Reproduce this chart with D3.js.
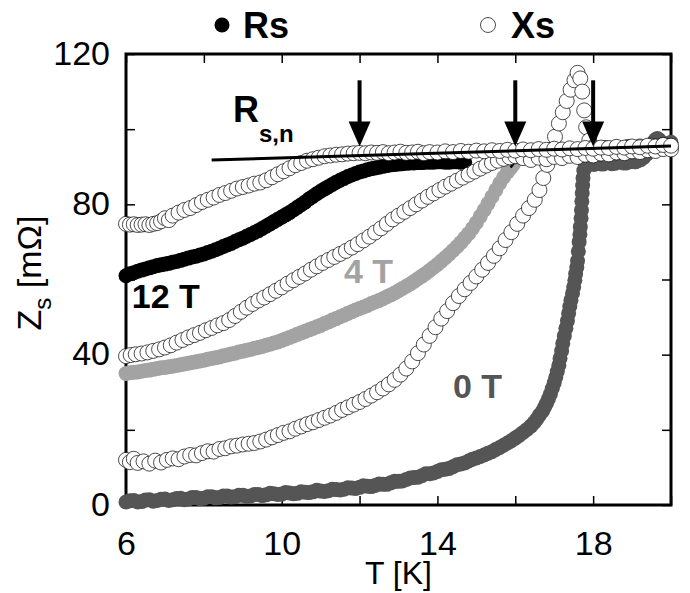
<!DOCTYPE html>
<html><head><meta charset="utf-8">
<script src="https://cdn.jsdelivr.net/npm/d3@7"></script>
<style>body{margin:0;background:#fff}svg{display:block}</style>
</head><body>
<svg id="chart" width="690" height="593"></svg>
<script>
// ---- tick labels ----
const xTickLabels = [6, 10, 14, 18];
const yTickLabels = [0, 40, 80, 120];
const xMinorTicks = [6, 8, 10, 12, 14, 16, 18, 20];
const yMinorTicks = [0, 20, 40, 60, 80, 100, 120];

// ---- series: [T (K), Zs (mOhm)] ----
const rs0T = [[6.0,0.8],[6.1,1.1],[6.2,1.2],[6.3,0.8],[6.4,0.9],[6.5,1.3],[6.6,1.4],[6.7,1.0],[6.8,1.2],[6.9,1.5],[7.0,1.6],[7.1,1.2],[7.2,1.4],[7.3,1.7],[7.4,1.8],[7.5,1.4],[7.6,1.6],[7.7,2.0],[7.8,2.0],[7.9,1.7],[8.0,1.8],[8.1,2.2],[8.2,2.2],[8.3,1.9],[8.4,2.0],[8.5,2.4],[8.6,2.4],[8.7,2.1],[8.8,2.2],[8.9,2.6],[9.0,2.6],[9.1,2.3],[9.2,2.4],[9.3,2.8],[9.4,2.8],[9.5,2.5],[9.6,2.7],[9.7,3.1],[9.8,3.0],[9.9,2.8],[10.0,2.9],[10.1,3.3],[10.2,3.2],[10.3,3.0],[10.4,3.1],[10.5,3.5],[10.6,3.4],[10.7,3.3],[10.8,3.5],[10.9,3.9],[11.0,3.7],[11.1,3.6],[11.2,3.8],[11.3,4.2],[11.4,4.1],[11.5,4.0],[11.6,4.2],[11.7,4.6],[11.8,4.5],[11.9,4.4],[12.0,4.7],[12.1,5.1],[12.2,5.0],[12.3,4.9],[12.4,5.2],[12.5,5.6],[12.6,5.5],[12.7,5.5],[12.8,5.9],[12.9,6.3],[13.0,6.3],[13.1,6.4],[13.2,6.8],[13.3,7.2],[13.4,7.3],[13.5,7.4],[13.6,7.8],[13.7,8.3],[13.8,8.3],[13.9,8.5],[14.0,8.9],[14.1,9.4],[14.2,9.5],[14.3,9.7],[14.4,10.2],[14.5,10.7],[14.6,10.9],[14.7,11.2],[14.8,11.7],[14.9,12.2],[15.0,12.5],[15.1,12.9],[15.2,13.3],[15.3,13.8],[15.4,14.2],[15.5,14.8],[15.6,15.3],[15.7,15.9],[15.8,16.5],[15.9,17.1],[16.0,17.8],[16.1,18.5],[16.2,19.3],[16.3,20.1],[16.4,21.0],[16.48,21.9],[16.55,22.8],[16.62,23.9],[16.7,25.0],[16.75,26.0],[16.8,27.0],[16.85,28.2],[16.9,29.5],[16.95,31.0],[17.0,32.5],[17.04,34.0],[17.08,35.5],[17.12,37.2],[17.15,39.0],[17.19,41.0],[17.22,43.0],[17.26,45.0],[17.3,47.0],[17.34,49.0],[17.37,51.0],[17.4,52.8],[17.43,54.5],[17.47,56.3],[17.5,58.0],[17.53,59.8],[17.55,61.5],[17.58,63.2],[17.6,65.0],[17.62,67.5],[17.64,70.0],[17.66,72.0],[17.67,74.0],[17.69,76.3],[17.7,78.5],[17.71,80.8],[17.72,83.0],[17.73,85.0],[17.74,87.0],[17.76,89.0],[17.8,90.3],[17.88,90.6],[17.95,90.8],[18.02,90.6],[18.1,91.0],[18.18,90.8],[18.25,90.7],[18.32,91.0],[18.4,91.1],[18.48,90.8],[18.55,90.9],[18.62,91.2],[18.7,91.3],[18.78,91.0],[18.85,91.0],[18.92,91.3],[19.0,91.4],[19.08,91.3],[19.15,91.6],[19.22,91.9],[19.3,92.5],[19.38,93.4],[19.45,94.5],[19.5,95.5],[19.55,96.5],[19.6,97.2],[19.65,97.5],[19.7,97.1],[19.75,96.5],[19.8,96.0],[19.85,95.8],[19.92,96.1],[20.0,96.5]];

const rs4T = [[6.0,35.0],[6.1,35.2],[6.2,35.3],[6.3,35.4],[6.4,35.6],[6.5,35.8],[6.6,35.9],[6.7,36.1],[6.8,36.3],[6.9,36.5],[7.0,36.6],[7.1,36.8],[7.2,36.9],[7.3,37.1],[7.4,37.3],[7.5,37.5],[7.6,37.7],[7.7,37.9],[7.8,38.1],[7.9,38.3],[8.0,38.5],[8.1,38.8],[8.2,39.0],[8.3,39.2],[8.4,39.4],[8.5,39.7],[8.6,39.9],[8.7,40.2],[8.8,40.4],[8.9,40.7],[9.0,40.9],[9.1,41.2],[9.2,41.4],[9.3,41.7],[9.4,41.9],[9.5,42.2],[9.6,42.5],[9.7,42.8],[9.8,43.1],[9.9,43.4],[10.0,43.8],[10.1,44.2],[10.2,44.6],[10.3,45.0],[10.4,45.4],[10.5,45.8],[10.6,46.2],[10.7,46.6],[10.8,47.0],[10.9,47.4],[11.0,47.8],[11.1,48.3],[11.2,48.7],[11.3,49.2],[11.4,49.6],[11.5,50.1],[11.6,50.5],[11.7,51.0],[11.8,51.4],[11.9,51.9],[12.0,52.3],[12.1,52.7],[12.2,53.1],[12.3,53.6],[12.4,54.0],[12.5,54.4],[12.6,54.9],[12.7,55.4],[12.8,55.9],[12.9,56.4],[13.0,57.0],[13.1,57.6],[13.2,58.2],[13.3,58.8],[13.4,59.5],[13.5,60.2],[13.6,60.9],[13.7,61.6],[13.8,62.4],[13.9,63.2],[14.0,64.0],[14.1,64.9],[14.2,65.8],[14.3,66.7],[14.4,67.7],[14.5,68.7],[14.6,69.8],[14.7,71.0],[14.8,72.2],[14.9,73.6],[15.0,75.1],[15.1,76.8],[15.2,78.5],[15.3,80.2],[15.4,82.0],[15.5,83.8],[15.6,85.6],[15.7,87.2],[15.8,88.6],[15.88,89.7],[15.95,90.6]];

const rs12T = [[6.0,61.0],[6.1,61.5],[6.2,61.8],[6.3,62.2],[6.4,62.5],[6.5,62.8],[6.6,63.1],[6.7,63.4],[6.8,63.7],[6.9,63.9],[7.0,64.1],[7.1,64.3],[7.2,64.6],[7.3,64.8],[7.4,65.1],[7.5,65.4],[7.6,65.7],[7.7,66.0],[7.8,66.2],[7.9,66.5],[8.0,66.8],[8.1,67.2],[8.2,67.5],[8.3,67.9],[8.4,68.3],[8.5,68.8],[8.6,69.2],[8.7,69.6],[8.8,70.1],[8.9,70.6],[9.0,71.0],[9.1,71.5],[9.2,72.0],[9.3,72.5],[9.4,73.0],[9.5,73.6],[9.6,74.2],[9.7,74.8],[9.8,75.4],[9.9,76.0],[10.0,76.6],[10.1,77.2],[10.2,77.8],[10.3,78.5],[10.4,79.2],[10.5,79.9],[10.6,80.6],[10.7,81.4],[10.8,82.1],[10.9,82.8],[11.0,83.5],[11.1,84.1],[11.2,84.7],[11.3,85.3],[11.4,85.9],[11.5,86.4],[11.6,86.9],[11.7,87.4],[11.8,87.8],[11.9,88.2],[12.0,88.6],[12.1,88.9],[12.2,89.2],[12.3,89.5],[12.4,89.7],[12.5,89.9],[12.6,90.1],[12.7,90.3],[12.8,90.5],[12.9,90.6],[13.0,90.7],[13.1,90.8],[13.2,90.9],[13.3,91.0],[13.4,91.0],[13.5,91.1],[13.6,91.1],[13.7,91.2],[13.8,91.2],[13.9,91.2],[14.0,91.3],[14.1,91.3],[14.2,91.2],[14.3,91.2],[14.4,91.3],[14.5,91.3],[14.6,91.2],[14.7,91.2]];

const xs0T = [[6.0,12.0],[6.1,11.4],[6.2,12.3],[6.3,11.2],[6.45,11.6],[6.6,11.0],[6.75,11.8],[6.9,11.3],[7.05,12.0],[7.2,12.4],[7.35,12.2],[7.5,12.9],[7.65,13.3],[7.8,13.2],[7.95,13.8],[8.1,14.3],[8.25,14.2],[8.4,14.9],[8.55,15.1],[8.7,15.6],[8.85,15.8],[9.0,16.1],[9.15,16.3],[9.3,16.5],[9.45,16.9],[9.6,17.4],[9.75,18.0],[9.9,18.6],[10.05,19.2],[10.2,19.6],[10.35,20.3],[10.5,20.9],[10.65,21.5],[10.8,22.0],[10.95,22.6],[11.1,23.2],[11.25,23.8],[11.4,24.5],[11.55,25.3],[11.7,26.0],[11.85,26.7],[12.0,27.4],[12.15,28.2],[12.3,29.1],[12.45,30.0],[12.6,31.0],[12.75,32.1],[12.9,33.3],[13.05,34.7],[13.2,36.3],[13.35,38.2],[13.5,40.4],[13.65,42.7],[13.8,45.0],[13.95,47.3],[14.1,49.6],[14.25,51.6],[14.4,53.7],[14.55,55.6],[14.7,57.4],[14.85,59.1],[15.0,60.8],[15.15,62.6],[15.3,64.4],[15.45,66.3],[15.6,68.3],[15.75,70.5],[15.9,72.6],[16.05,74.8],[16.2,77.0],[16.35,79.0],[16.5,81.2],[16.62,83.8],[16.72,87.0],[16.82,90.5],[16.92,94.5],[17.02,98.0],[17.12,101.5],[17.22,104.5],[17.32,107.5],[17.42,110.5],[17.52,113.0],[17.6,115.0],[17.67,113.5],[17.72,110.0],[17.77,105.0],[17.82,100.5],[17.9,97.0],[18.0,95.2],[18.15,94.6],[18.3,95.0],[18.45,94.7],[18.6,95.1],[18.75,94.8],[18.9,95.3],[19.05,95.0],[19.2,95.4],[19.35,95.1],[19.5,95.6],[19.65,95.3],[19.8,95.8],[19.95,95.5]];

const xs4T = [[6.0,39.6],[6.12,39.9],[6.25,40.1],[6.4,40.3],[6.55,40.6],[6.7,41.0],[6.85,41.4],[7.0,41.9],[7.15,42.5],[7.3,43.2],[7.45,43.9],[7.6,44.6],[7.75,45.2],[7.9,45.8],[8.05,46.5],[8.2,47.1],[8.35,47.8],[8.5,48.4],[8.65,49.2],[8.8,50.3],[8.95,51.4],[9.1,52.5],[9.25,53.5],[9.4,54.4],[9.55,55.2],[9.7,56.1],[9.85,57.0],[10.0,57.9],[10.15,58.9],[10.3,59.8],[10.45,60.7],[10.6,61.6],[10.75,62.6],[10.9,63.5],[11.05,64.4],[11.2,65.2],[11.35,66.0],[11.5,66.8],[11.65,67.6],[11.8,68.5],[11.95,69.4],[12.1,70.4],[12.25,71.4],[12.4,72.5],[12.55,73.6],[12.7,74.8],[12.85,76.0],[13.0,77.0],[13.15,78.0],[13.3,79.0],[13.45,80.0],[13.6,81.0],[13.75,82.0],[13.9,82.9],[14.05,83.8],[14.2,84.7],[14.35,85.5],[14.5,86.3],[14.65,87.1],[14.8,87.9],[14.95,88.7],[15.1,89.5],[15.25,90.3],[15.4,91.0],[15.55,91.6],[15.7,92.1],[15.85,92.5],[16.0,92.8],[16.2,92.3],[16.4,91.8],[16.6,92.4],[16.8,92.0],[17.0,92.6],[17.2,92.3],[17.4,92.9],[17.6,92.6],[17.8,93.2],[18.0,93.0],[18.2,93.5],[18.4,93.3],[18.6,93.8],[18.8,93.6],[19.0,94.1],[19.2,93.9],[19.4,94.4],[19.6,94.2],[19.8,94.7],[20.0,94.6]];

const xs12T = [[6.0,74.8],[6.1,74.6],[6.2,74.7],[6.3,74.5],[6.4,74.6],[6.5,74.7],[6.6,74.5],[6.7,74.8],[6.8,75.0],[6.9,75.5],[7.0,76.3],[7.1,75.8],[7.2,77.0],[7.35,77.8],[7.5,78.5],[7.65,79.0],[7.8,79.8],[7.95,80.6],[8.1,81.2],[8.25,81.8],[8.4,82.5],[8.55,83.0],[8.7,83.6],[8.85,84.2],[9.0,84.6],[9.15,85.0],[9.3,85.5],[9.45,85.8],[9.6,86.4],[9.75,87.2],[9.9,88.0],[10.05,88.8],[10.2,89.6],[10.35,90.4],[10.5,91.0],[10.65,91.6],[10.8,92.0],[10.95,92.4],[11.1,92.8],[11.25,93.0],[11.4,93.2],[11.55,93.3],[11.7,93.5],[11.85,93.6],[12.0,93.7],[12.15,93.6],[12.3,93.8],[12.45,93.7],[12.6,93.9],[12.75,93.6],[12.9,93.8],[13.05,94.0],[13.2,93.7],[13.35,93.8],[13.5,94.0],[13.65,93.6],[13.8,93.9],[14.0,93.8],[14.2,94.1],[14.4,93.9],[14.6,94.2],[14.8,94.0],[15.0,94.3],[15.2,94.1],[15.4,94.4],[15.6,94.2],[15.8,94.5],[16.0,94.3],[16.2,94.6],[16.4,94.4],[16.6,94.7],[16.8,94.5],[17.0,94.8],[17.2,94.6],[17.4,94.9],[17.6,94.7],[17.8,95.0],[18.0,94.8],[18.2,95.1],[18.4,95.0],[18.6,95.3],[18.8,95.1],[19.0,95.4],[19.2,95.2],[19.4,95.6],[19.6,95.4],[19.8,95.8],[20.0,95.6]];

// short black line near 16 K
const rsLine4T = [[15.88,89.8],[15.98,91.2],[16.15,90.9],[16.35,90.6],[16.6,91.0]];

// normal-state line R_s,n
const rsnLine = [[8.2,91.8],[20.0,95.5]];
// arrows: T position, top and tip Zs
const arrowT = [12, 16, 18];
const arrowTop = 113;
const arrowTip = 95.4;

const fieldLabels = [
  {text: "12 T", t: 6.15, z: 52.5, color: "#000000"},
  {text: "4 T",  t: 11.6, z: 59.0, color: "#a3a3a3"},
  {text: "0 T",  t: 14.4, z: 28.5, color: "#555555"}
];

// ---- drawing ----
const svg = d3.select("#chart");
const x = d3.scaleLinear().domain([6, 20]).range([126, 671]);
const y = d3.scaleLinear().domain([0, 120]).range([505, 54]);
const font = "'Liberation Sans', Arial, Helvetica, sans-serif";

// frame + ticks
const tickLen = 9;
const fmtX = d => xTickLabels.includes(d) ? d : "";
const fmtY = d => yTickLabels.includes(d) ? d : "";

const gB = svg.append("g").attr("transform", `translate(0,${y(0)})`)
  .call(d3.axisBottom(x).tickValues(xMinorTicks).tickSizeInner(-tickLen).tickSizeOuter(0).tickPadding(26).tickFormat(fmtX));
const gT = svg.append("g").attr("transform", `translate(0,${y(120)})`)
  .call(d3.axisTop(x).tickValues(xMinorTicks).tickSizeInner(-tickLen).tickSizeOuter(0).tickFormat(""));
const gL = svg.append("g").attr("transform", `translate(${x(6)},0)`)
  .call(d3.axisLeft(y).tickValues(yMinorTicks).tickSizeInner(-tickLen).tickSizeOuter(0).tickPadding(16).tickFormat(fmtY));
const gR = svg.append("g").attr("transform", `translate(${x(20)},0)`)
  .call(d3.axisRight(y).tickValues(yMinorTicks).tickSizeInner(-tickLen).tickSizeOuter(0).tickFormat(""));
[gB, gT, gL, gR].forEach(g => {
  g.select(".domain").remove();
  g.selectAll(".tick line").attr("stroke", "#000").attr("stroke-width", 1.5);
  g.selectAll(".tick text").attr("font-family", font).attr("font-size", 34).attr("fill", "#000");
});
gB.selectAll(".tick text").attr("dy", "0.71em");
gL.selectAll(".tick text").attr("dy", "0.30em");

svg.append("rect")
  .attr("x", x(6)).attr("y", y(120))
  .attr("width", x(20) - x(6)).attr("height", y(0) - y(120))
  .attr("fill", "none").attr("stroke", "#000").attr("stroke-width", 3);

// filled Rs
function filled(data, color, r) {
  svg.append("g").selectAll("circle").data(data).join("circle")
    .attr("cx", d => x(d[0])).attr("cy", d => y(d[1])).attr("r", r)
    .attr("fill", color);
}
filled(rs0T, "#555555", 7.5);
filled(rs4T, "#a3a3a3", 7.5);
filled(rs12T, "#000000", 7.5);

svg.append("path").datum(rsLine4T)
  .attr("d", d3.line().x(d => x(d[0])).y(d => y(d[1])))
  .attr("fill", "none").attr("stroke", "#000").attr("stroke-width", 2.5);

// open Xs
function open(data) {
  svg.append("g").selectAll("circle").data(data).join("circle")
    .attr("cx", d => x(d[0])).attr("cy", d => y(d[1])).attr("r", 7.5)
    .attr("fill", "#fff").attr("stroke", "#000").attr("stroke-width", 0.7);
}
open(xs0T);
open(xs4T);
open(xs12T);

// R_s,n line
svg.append("path").datum(rsnLine)
  .attr("d", d3.line().x(d => x(d[0])).y(d => y(d[1])))
  .attr("fill", "none").attr("stroke", "#000").attr("stroke-width", 3);

// arrows
arrowT.forEach(t => {
  const cx = x(t), top = y(arrowTop), tip = y(arrowTip);
  svg.append("line").attr("x1", cx).attr("x2", cx).attr("y1", top).attr("y2", tip - 20)
    .attr("stroke", "#000").attr("stroke-width", 4);
  svg.append("path").attr("d", `M${cx - 11},${tip - 25} L${cx + 11},${tip - 25} L${cx},${tip} Z`).attr("fill", "#000");
});

// R_s,n label
const rl = svg.append("text").attr("x", 233).attr("y", 122)
  .attr("font-family", font).attr("font-weight", "bold").attr("font-size", 36).attr("fill", "#000");
rl.append("tspan").text("R");
rl.append("tspan").attr("font-size", 24).attr("dy", 20).attr("dx", 0).text("s,n");

// field labels
fieldLabels.forEach(l => {
  svg.append("text").attr("x", x(l.t)).attr("y", y(l.z))
    .attr("font-family", font).attr("font-weight", "bold").attr("font-size", 34)
    .attr("fill", l.color).text(l.text);
});

// legend
svg.append("circle").attr("cx", 222).attr("cy", 25).attr("r", 7.5).attr("fill", "#000");
svg.append("text").attr("x", 243).attr("y", 38).attr("font-family", font).attr("font-weight", "bold")
  .attr("font-size", 36).attr("fill", "#000").text("Rs");
svg.append("circle").attr("cx", 488).attr("cy", 25).attr("r", 7.5).attr("fill", "#fff").attr("stroke", "#000").attr("stroke-width", 0.7);
svg.append("text").attr("x", 511).attr("y", 38).attr("font-family", font).attr("font-weight", "bold")
  .attr("font-size", 36).attr("fill", "#000").text("Xs");

// axis titles
svg.append("text").attr("x", (x(6) + x(20)) / 2).attr("y", 584).attr("text-anchor", "middle")
  .attr("font-family", font).attr("font-size", 32).attr("fill", "#000").text("T [K]");
const yt = svg.append("text").attr("transform", `translate(41,${273}) rotate(-90)`).attr("text-anchor", "middle")
  .attr("font-family", font).attr("font-size", 34).attr("fill", "#000");
yt.append("tspan").text("Z");
yt.append("tspan").attr("font-size", 24).attr("dy", 10).text("s");
yt.append("tspan").attr("dy", -10).text(" [mΩ]");
</script>
</body></html>
